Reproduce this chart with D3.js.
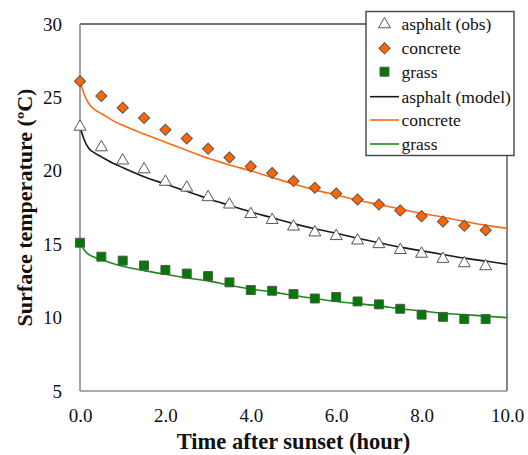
<!DOCTYPE html>
<html><head><meta charset="utf-8">
<script src="https://cdn.jsdelivr.net/npm/d3@7"></script>
<style>body{margin:0;background:#fff;} svg{display:block;}</style>
</head><body>
<svg id="chart" width="528" height="455"></svg>
<script>
const obsTime = [0,0.5,1,1.5,2,2.5,3,3.5,4,4.5,5,5.5,6,6.5,7,7.5,8,8.5,9,9.5];
const asphaltObs = [23.0,21.6,20.7,20.1,19.25,18.85,18.2,17.7,17.05,16.65,16.2,15.8,15.55,15.25,15.0,14.6,14.35,14.0,13.7,13.5];
const concreteObs = [26.1,25.1,24.3,23.6,22.8,22.2,21.5,20.9,20.3,19.85,19.3,18.85,18.45,18.05,17.7,17.3,16.9,16.55,16.25,15.95];
const grassObs = [15.1,14.15,13.88,13.55,13.25,13.0,12.83,12.4,11.88,11.83,11.6,11.3,11.4,11.1,10.9,10.6,10.2,10.05,9.9,9.9];

const modelTime = [0,0.1,0.2,0.35,0.5,0.75,1,1.5,2,2.5,3,3.5,4,4.5,5,5.5,6,6.5,7,7.5,8,8.5,9,9.5,10];
const asphaltModel = [23.0,22.1,21.55,21.2,20.95,20.55,20.22,19.6,19.1,18.6,18.1,17.65,17.2,16.8,16.4,16.05,15.75,15.4,15.1,14.8,14.55,14.3,14.05,13.85,13.63];
const concreteModel = [26.1,25.2,24.6,24.15,23.9,23.45,23.1,22.5,21.95,21.4,20.85,20.4,20.0,19.55,19.1,18.7,18.35,18.0,17.7,17.4,17.1,16.85,16.55,16.3,16.08];
const grassModel = [15.1,14.6,14.3,14.1,13.95,13.7,13.5,13.2,12.95,12.7,12.5,12.2,11.95,11.75,11.5,11.3,11.1,10.95,10.8,10.6,10.45,10.3,10.2,10.1,10.0];

const xTicks = [0,2,4,6,8,10];
const yTicks = [5,10,15,20,25,30];
const legendLabels = ["asphalt (obs)","concrete","grass","asphalt (model)","concrete","grass"];

const svg = d3.select("#chart");
const FONT = "'Liberation Serif','Times New Roman',serif";
const L=80, R=507, T=24, B=391;
const x = d3.scaleLinear().domain([0,10]).range([L,R]);
const y = d3.scaleLinear().domain([5,30]).range([B,T]);

// axes tick labels
const gx = svg.append("g").attr("transform",`translate(0,${B})`)
  .call(d3.axisBottom(x).tickValues(xTicks).tickFormat(d3.format(".1f")).tickSize(0).tickPadding(18));
gx.attr("font-family",FONT).attr("font-size",19);
gx.select(".domain").remove();
gx.selectAll("text").attr("font-family",FONT).attr("font-size",19).attr("fill","#111");
const gy = svg.append("g").attr("transform",`translate(${L},0)`)
  .call(d3.axisLeft(y).tickValues(yTicks).tickFormat(d3.format("d")).tickSize(0).tickPadding(18));
gy.attr("font-family",FONT).attr("font-size",19);
gy.select(".domain").remove();
gy.selectAll("text").attr("font-family",FONT).attr("font-size",19).attr("fill","#111");

// frame
svg.append("line").attr("x1",L).attr("x2",R).attr("y1",T).attr("y2",T).attr("stroke","#444").attr("stroke-width",1.3);
svg.append("line").attr("x1",R).attr("x2",R).attr("y1",T).attr("y2",B).attr("stroke","#444").attr("stroke-width",1.3);
svg.append("line").attr("x1",L).attr("x2",L).attr("y1",T).attr("y2",B).attr("stroke","#8c8c8c").attr("stroke-width",1.6);
svg.append("line").attr("x1",L).attr("x2",R).attr("y1",B).attr("y2",B).attr("stroke","#8c8c8c").attr("stroke-width",1.6);

// model lines
const line = d3.line().x(d=>x(d[0])).y(d=>y(d[1])).curve(d3.curveMonotoneX);
const models = [[asphaltModel,"#1a1a1a"],[concreteModel,"#ff6a13"],[grassModel,"#1e8a1e"]];
models.forEach(([vals,col])=>{
  svg.append("path").datum(modelTime.map((t,i)=>[t,vals[i]]))
    .attr("d",line).attr("fill","none").attr("stroke",col).attr("stroke-width",1.6);
});

// markers
const tri = d3.symbol().type(d3.symbolTriangle).size(62);
const dia = d3.symbol().type(d3.symbolSquare).size(62);   // rotated 45deg below
const sq = d3.symbol().type(d3.symbolSquare).size(80);
function marks(vals, sym, fill, stroke, rot){
  svg.append("g").selectAll("path").data(obsTime.map((t,i)=>[t,vals[i]])).join("path")
    .attr("d",sym).attr("transform",d=>`translate(${x(d[0])},${y(d[1])}) rotate(${rot})`)
    .attr("fill",fill).attr("stroke",stroke).attr("stroke-width",1);
}
marks(asphaltObs, tri, "#fff", "#555", 0);
marks(concreteObs, dia, "#ff6600", "#555", 45);
marks(grassObs, sq, "#007a00", "#555", 0);

// axis titles
svg.append("text").attr("x",(L+R)/2).attr("y",449).attr("text-anchor","middle")
  .attr("font-family",FONT).attr("font-weight","bold").attr("font-size",22.5).attr("fill","#111")
  .text("Time after sunset (hour)");
svg.append("text").attr("transform",`translate(32,${(T+B)/2}) rotate(-90)`).attr("text-anchor","middle")
  .attr("font-family",FONT).attr("font-weight","bold").attr("font-size",22).attr("fill","#111")
  .text("Surface temperature (ºC)");

// legend
const lg = svg.append("g");
lg.append("rect").attr("x",366).attr("y",11.5).attr("width",148).attr("height",144)
  .attr("fill","#fff").attr("stroke","#444").attr("stroke-width",1.4);
const rowsY = [24.3,48.3,71.7,96.7,120,144];
const legSyms = [
  {type:"sym", sym:tri, fill:"#fff", stroke:"#555", rot:0},
  {type:"sym", sym:dia, fill:"#ff6600", stroke:"#555", rot:45},
  {type:"sym", sym:sq, fill:"#007a00", stroke:"#555", rot:0},
  {type:"line", col:"#1a1a1a"},
  {type:"line", col:"#ff6a13"},
  {type:"line", col:"#1e8a1e"}
];
legSyms.forEach((s,i)=>{
  const yy = rowsY[i];
  if(s.type==="sym"){
    lg.append("path").attr("d",s.sym).attr("transform",`translate(384.5,${yy}) rotate(${s.rot})`)
      .attr("fill",s.fill).attr("stroke",s.stroke).attr("stroke-width",1);
  } else {
    lg.append("line").attr("x1",370).attr("x2",399).attr("y1",yy).attr("y2",yy)
      .attr("stroke",s.col).attr("stroke-width",1.6);
  }
  lg.append("text").attr("x",401.5).attr("y",yy+6).attr("font-family",FONT).attr("font-size",17.5)
    .attr("fill","#111").text(legendLabels[i]);
});
</script>
</body></html>
